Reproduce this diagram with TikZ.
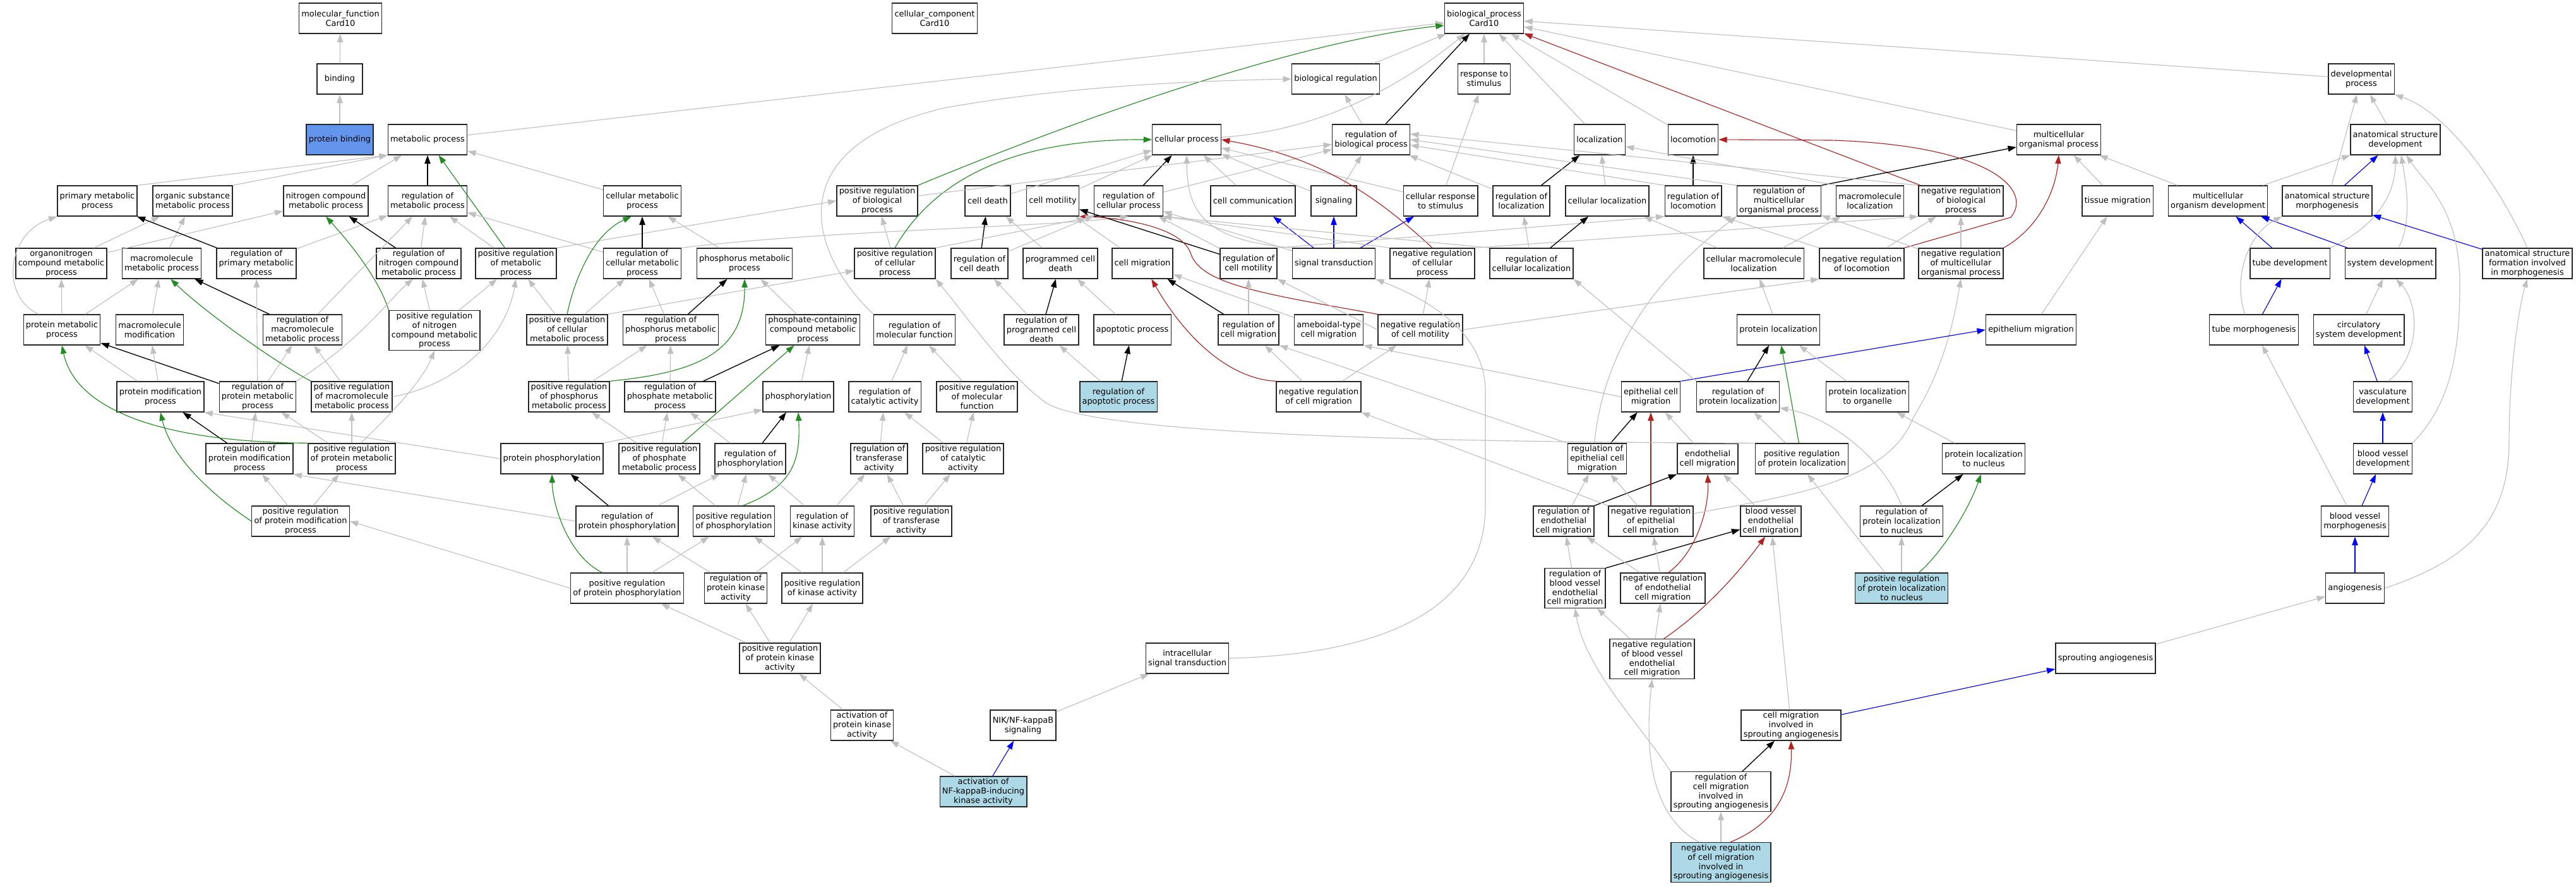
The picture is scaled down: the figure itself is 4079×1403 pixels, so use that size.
\documentclass[tikz,border=0pt]{standalone}
\usepackage{fontspec}
\setmainfont{DejaVu Sans}
\usetikzlibrary{arrows.meta}
\definecolor{edgegray}{RGB}{192,192,192}
\definecolor{posgreen}{RGB}{34,139,34}
\definecolor{negred}{RGB}{178,34,34}
\definecolor{partblue}{RGB}{0,0,255}
\definecolor{seedblue}{RGB}{100,149,237}
\definecolor{hitblue}{RGB}{173,216,230}
\begin{document}
\begin{tikzpicture}[x=0.75pt,y=0.75pt]
    \tikzstyle{term}=[draw=black!85, line width=1pt, fill=white, minimum width=54pt, minimum height=36pt, inner xsep=2.8pt, inner ysep=2pt, align=center, font=\fontsize{9.7}{11.2}\selectfont]
    \tikzstyle{seed}=[term, fill=seedblue]
    \tikzstyle{hit}=[term, fill=hitblue]
    \tikzstyle{goedge}=[line width=0.85pt, -{Triangle[length=10pt,width=7pt]}]
    \tikzstyle{isaedge}=[goedge, draw=edgegray]
    \tikzstyle{regedge}=[goedge, draw=black, line width=1pt]
    \tikzstyle{posedge}=[goedge, draw=posgreen]
    \tikzstyle{negedge}=[goedge, draw=negred]
    \tikzstyle{partedge}=[goedge, draw=partblue]
    \fill [white] (0,0) rectangle (4079,-1403);
    \useasboundingbox (0,0) rectangle (4079,-1403);
    \node [term] (mf) at (539,-29) {molecular\_function\\Card10};
    \node [term] (cc) at (1480,-29) {cellular\_component\\Card10};
    \node [term] (bp) at (2350,-29) {biological\_process\\Card10};
    \node [term] (bind) at (538,-125) {binding};
    \node [term] (breg) at (2115,-125) {biological regulation};
    \node [term] (resp) at (2350,-125) {response to\\stimulus};
    \node [term] (devp) at (3739,-125) {developmental\\process};
    \node [seed] (pbind) at (538,-221) {protein binding};
    \node [term] (metab) at (677,-221) {metabolic process};
    \node [term] (cellp) at (1879,-221) {cellular process};
    \node [term] (regbp) at (2171,-221) {regulation of\\biological process};
    \node [term] (loc) at (2533,-221) {localization};
    \node [term] (locom) at (2681,-221) {locomotion};
    \node [term] (mcop) at (3260,-221) {multicellular\\organismal process};
    \node [term] (asdev) at (3793,-221) {anatomical structure\\development};
    \node [term] (primm) at (154,-318) {primary metabolic\\process};
    \node [term] (orgsub) at (305,-318) {organic substance\\metabolic process};
    \node [term] (nitro) at (516,-318) {nitrogen compound\\metabolic process};
    \node [term] (regmetab) at (677,-318) {regulation of\\metabolic process};
    \node [term] (cellmetab) at (1017,-318) {cellular metabolic\\process};
    \node [term] (posregbp) at (1389,-318) {positive regulation\\of biological\\process};
    \node [term] (death) at (1564,-318) {cell death};
    \node [term] (motil) at (1667,-318) {cell motility};
    \node [term] (regcellp) at (1787,-318) {regulation of\\cellular process};
    \node [term] (comm) at (1984,-318) {cell communication};
    \node [term] (signaling) at (2112,-318) {signaling};
    \node [term] (cresp) at (2281,-318) {cellular response\\to stimulus};
    \node [term] (regloc) at (2409,-318) {regulation of\\localization};
    \node [term] (cellloc) at (2545,-318) {cellular localization};
    \node [term] (reglocom) at (2681,-318) {regulation of\\locomotion};
    \node [term] (regmco) at (2817,-318) {regulation of\\multicellular\\organismal process};
    \node [term] (mmloc) at (2961,-318) {macromolecule\\localization};
    \node [term] (negregbp) at (3105,-318) {negative regulation\\of biological\\process};
    \node [term] (tissmig) at (3353,-318) {tissue migration};
    \node [term] (mcodev) at (3512,-318) {multicellular\\organism development};
    \node [term] (asmorph) at (3685,-318) {anatomical structure\\morphogenesis};
    \node [term] (orgnit) at (97,-417) {organonitrogen\\compound metabolic\\process};
    \node [term] (mmmetab) at (256,-417) {macromolecule\\metabolic process};
    \node [term] (regprim) at (406,-417) {regulation of\\primary metabolic\\process};
    \node [term] (regnitro) at (663,-417) {regulation of\\nitrogen compound\\metabolic process};
    \node [term] (posregmetab) at (817,-417) {positive regulation\\of metabolic\\process};
    \node [term] (regcellmetab) at (1017,-417) {regulation of\\cellular metabolic\\process};
    \node [term] (phosmetab) at (1179,-417) {phosphorus metabolic\\process};
    \node [term] (posregcellp) at (1417,-417) {positive regulation\\of cellular\\process};
    \node [term] (regdeath) at (1551,-417) {regulation of\\cell death};
    \node [term] (pcd) at (1679,-417) {programmed cell\\death};
    \node [term] (migr) at (1809,-417) {cell migration};
    \node [term] (regmotil) at (1977,-417) {regulation of\\cell motility};
    \node [term] (sigtrans) at (2112,-417) {signal transduction};
    \node [term] (negregcellp) at (2268,-417) {negative regulation\\of cellular\\process};
    \node [term] (regcellloc) at (2425,-417) {regulation of\\cellular localization};
    \node [term] (cmmloc) at (2777,-417) {cellular macromolecule\\localization};
    \node [term] (negreglocom) at (2948,-417) {negative regulation\\of locomotion};
    \node [term] (negregmco) at (3105,-417) {negative regulation\\of multicellular\\organismal process};
    \node [term] (tubedev) at (3626,-417) {tube development};
    \node [term] (sysdev) at (3785,-417) {system development};
    \node [term] (asform) at (4002,-417) {anatomical structure\\formation involved\\in morphogenesis};
    \node [term] (protmetab) at (98,-522) {protein metabolic\\process};
    \node [term] (mmmod) at (237,-522) {macromolecule\\modification};
    \node [term] (regmm) at (479,-522) {regulation of\\macromolecule\\metabolic process};
    \node [term] (posregnitro) at (688,-523) {positive regulation\\of nitrogen\\compound metabolic\\process};
    \node [term] (posregcellmetab) at (898,-522) {positive regulation\\of cellular\\metabolic process};
    \node [term] (regphos) at (1062,-522) {regulation of\\phosphorus metabolic\\process};
    \node [term] (phoscont) at (1287,-522) {phosphate-containing\\compound metabolic\\process};
    \node [term] (regmf) at (1448,-522) {regulation of\\molecular function};
    \node [term] (regpcd) at (1649,-522) {regulation of\\programmed cell\\death};
    \node [term] (apop) at (1793,-522) {apoptotic process};
    \node [term] (regmigr) at (1977,-522) {regulation of\\cell migration};
    \node [term] (ameb) at (2104,-522) {ameboidal-type\\cell migration};
    \node [term] (negregmotil) at (2249,-522) {negative regulation\\of cell motility};
    \node [term] (protloc) at (2816,-522) {protein localization};
    \node [term] (epimig) at (3216,-522) {epithelium migration};
    \node [term] (tubemorph) at (3569,-522) {tube morphogenesis};
    \node [term] (circ) at (3735,-522) {circulatory\\system development};
    \node [term] (protmod) at (254,-628) {protein modification\\process};
    \node [term] (regprot) at (408,-628) {regulation of\\protein metabolic\\process};
    \node [term] (posregmm) at (557,-628) {positive regulation\\of macromolecule\\metabolic process};
    \node [term] (posregphos) at (901,-628) {positive regulation\\of phosphorus\\metabolic process};
    \node [term] (regphosph) at (1061,-628) {regulation of\\phosphate metabolic\\process};
    \node [term] (phosphory) at (1264,-628) {phosphorylation};
    \node [term] (regcat) at (1401,-628) {regulation of\\catalytic activity};
    \node [term] (posregmf) at (1547,-628) {positive regulation\\of molecular\\function};
    \node [hit] (regapop) at (1771,-628) {regulation of\\apoptotic process};
    \node [term] (negregmigr) at (2088,-628) {negative regulation\\of cell migration};
    \node [term] (epicm) at (2614,-628) {epithelial cell\\migration};
    \node [term] (regprotloc) at (2752,-628) {regulation of\\protein localization};
    \node [term] (protlocorg) at (2957,-628) {protein localization\\to organelle};
    \node [term] (vasc) at (3773,-628) {vasculature\\development};
    \node [term] (regprotmod) at (395,-726) {regulation of\\protein modification\\process};
    \node [term] (posregprot) at (557,-726) {positive regulation\\of protein metabolic\\process};
    \node [term] (protphos) at (874,-726) {protein phosphorylation};
    \node [term] (posregphosph) at (1044,-726) {positive regulation\\of phosphate\\metabolic process};
    \node [term] (regphosry) at (1188,-726) {regulation of\\phosphorylation};
    \node [term] (regtrans) at (1392,-726) {regulation of\\transferase\\activity};
    \node [term] (posregcat) at (1525,-726) {positive regulation\\of catalytic\\activity};
    \node [term] (regepi) at (2529,-726) {regulation of\\epithelial cell\\migration};
    \node [term] (endo) at (2704,-726) {endothelial\\cell migration};
    \node [term] (posregprotloc) at (2853,-726) {positive regulation\\of protein localization};
    \node [term] (protlocnuc) at (3141,-726) {protein localization\\to nucleus};
    \node [term] (bvdev) at (3773,-726) {blood vessel\\development};
    \node [term] (posregprotmod) at (476,-825) {positive regulation\\of protein modification\\process};
    \node [term] (regprotphos) at (993,-825) {regulation of\\protein phosphorylation};
    \node [term] (posregphosry) at (1162,-825) {positive regulation\\of phosphorylation};
    \node [term] (regkin) at (1302,-825) {regulation of\\kinase activity};
    \node [term] (posregtrans) at (1443,-825) {positive regulation\\of transferase\\activity};
    \node [term] (regendo) at (2476,-825) {regulation of\\endothelial\\cell migration};
    \node [term] (negregepi) at (2614,-825) {negative regulation\\of epithelial\\cell migration};
    \node [term] (bvecm) at (2804,-825) {blood vessel\\endothelial\\cell migration};
    \node [term] (regprotlocnuc) at (3011,-825) {regulation of\\protein localization\\to nucleus};
    \node [term] (bvmorph) at (3729,-825) {blood vessel\\morphogenesis};
    \node [term] (posregprotphos) at (993,-931) {positive regulation\\of protein phosphorylation};
    \node [term] (regprotkin) at (1165,-931) {regulation of\\protein kinase\\activity};
    \node [term] (posregkin) at (1302,-931) {positive regulation\\of kinase activity};
    \node [term] (regbvecm) at (2494,-931) {regulation of\\blood vessel\\endothelial\\cell migration};
    \node [term] (negregendo) at (2633,-931) {negative regulation\\of endothelial\\cell migration};
    \node [hit] (posregprotlocnuc) at (3011,-931) {positive regulation\\of protein localization\\to nucleus};
    \node [term] (angio) at (3729,-931) {angiogenesis};
    \node [term] (posregprotkin) at (1235,-1042) {positive regulation\\of protein kinase\\activity};
    \node [term] (intra) at (1880,-1042) {intracellular\\signal transduction};
    \node [term] (negregbvecm) at (2616,-1043) {negative regulation\\of blood vessel\\endothelial\\cell migration};
    \node [term] (sprout) at (3334,-1042) {sprouting angiogenesis};
    \node [term] (actpk) at (1365,-1148) {activation of\\protein kinase\\activity};
    \node [term] (nik) at (1620,-1148) {NIK/NF-kappaB\\signaling};
    \node [term] (cmsa) at (2836,-1148) {cell migration\\involved in\\sprouting angiogenesis};
    \node [hit] (actnik) at (1557,-1253) {activation of\\NF-kappaB-inducing\\kinase activity};
    \node [term] (regcmsa) at (2725,-1253) {regulation of\\cell migration\\involved in\\sprouting angiogenesis};
    \node [hit] (negregcmsa) at (2725,-1365) {negative regulation\\of cell migration\\involved in\\sprouting angiogenesis};
    \draw [isaedge] (bind) -- (mf);
    \draw [isaedge] (pbind) -- (bind);
    \draw [isaedge] (metab) -- (bp);
    \draw [isaedge] (cellp) .. controls (2120,-205) and (2250,-110) .. (bp);
    \draw [isaedge] (breg) -- (bp);
    \draw [regedge] (regbp) -- (bp);
    \draw [isaedge] (regbp) -- (breg);
    \draw [isaedge] (resp) -- (bp);
    \draw [isaedge] (loc) -- (bp);
    \draw [isaedge] (locom) -- (bp);
    \draw [negedge] (negregbp) -- (bp);
    \draw [isaedge] (mcop) -- (bp);
    \draw [isaedge] (devp) -- (bp);
    \draw [posedge] (posregbp.north east) .. controls (1800,-150) and (2100,-60) .. (bp.190);
    \draw [isaedge] (primm.north east) -- (metab.south west);
    \draw [isaedge] (orgsub.north east) -- (metab.south west);
    \draw [isaedge] (nitro) -- (metab);
    \draw [regedge] (regmetab) -- (metab);
    \draw [isaedge] (cellmetab) -- (metab);
    \draw [posedge] (posregmetab) -- (metab);
    \draw [isaedge] (orgnit) -- (orgsub);
    \draw [isaedge] (orgnit) -- (nitro);
    \draw [isaedge] (mmmetab) -- (orgsub);
    \draw [regedge] (regprim) -- (primm);
    \draw [isaedge] (regprim) -- (regmetab);
    \draw [regedge] (regnitro) -- (nitro);
    \draw [isaedge] (regnitro) -- (regmetab);
    \draw [isaedge] (protmetab.146) .. controls (0,-470) and (10,-370) .. (primm.south west);
    \draw [isaedge] (protmetab) -- (orgnit);
    \draw [isaedge] (protmetab) -- (mmmetab);
    \draw [isaedge] (mmmod) -- (mmmetab);
    \draw [regedge] (regmm) -- (mmmetab);
    \draw [isaedge] (regmm) -- (regmetab);
    \draw [posedge] (posregnitro.north west) .. controls (600,-440) and (550,-380) .. (nitro.south);
    \draw [isaedge] (posregnitro) -- (regnitro);
    \draw [isaedge] (posregnitro) -- (posregmetab);
    \draw [isaedge] (posregmetab) -- (regmetab);
    \draw [isaedge] (posregmetab.north east) -- (posregbp.west);
    \draw [regedge] (regcellmetab) -- (cellmetab);
    \draw [isaedge] (regcellmetab) -- (regmetab);
    \draw [isaedge] (regcellmetab.north east) .. controls (1300,-365) and (1650,-360) .. (regcellp.south);
    \draw [isaedge] (phosmetab) -- (cellmetab);
    \draw [posedge] (posregcellmetab.north) .. controls (910,-440) and (940,-370) .. (cellmetab.235);
    \draw [isaedge] (posregcellmetab) -- (regcellmetab);
    \draw [isaedge] (posregcellmetab) -- (posregmetab);
    \draw [isaedge] (posregcellmetab.north east) -- (posregcellp.190);
    \draw [regedge] (regphos) -- (phosmetab);
    \draw [isaedge] (regphos) -- (regcellmetab);
    \draw [isaedge] (phoscont) -- (phosmetab);
    \draw [posedge] (posregphos.north east) .. controls (1100,-590) and (1180,-560) .. (phosmetab.south);
    \draw [isaedge] (posregphos) -- (posregcellmetab);
    \draw [isaedge] (posregphos) -- (regphos);
    \draw [regedge] (regphosph) -- (phoscont);
    \draw [isaedge] (regphosph) -- (regphos);
    \draw [isaedge] (phosphory) -- (phoscont);
    \draw [isaedge] (protphos.north east) -- (phosphory.200);
    \draw [isaedge] (protphos.west) -- (protmod.south east);
    \draw [regedge] (regprot) -- (protmetab);
    \draw [isaedge] (regprot) -- (regmm);
    \draw [isaedge] (regprot) -- (regprim);
    \draw [isaedge] (regprot.north east) .. controls (570,-540) and (620,-470) .. (regnitro.250);
    \draw [isaedge] (protmod) -- (protmetab);
    \draw [isaedge] (protmod) -- (mmmod);
    \draw [posedge] (posregmm.north west) .. controls (430,-570) and (320,-490) .. (mmmetab.300);
    \draw [isaedge] (posregmm) -- (regmm);
    \draw [isaedge] (posregmm.east) .. controls (720,-610) and (800,-540) .. (posregmetab.south);
    \draw [regedge] (regprotmod) -- (protmod);
    \draw [isaedge] (regprotmod) -- (regprot);
    \draw [posedge] (posregprot.north west) .. controls (260,-700) and (120,-650) .. (protmetab.south);
    \draw [isaedge] (posregprot) -- (regprot);
    \draw [isaedge] (posregprot) -- (posregmm);
    \draw [isaedge] (posregprot.60) .. controls (625,-650) and (670,-600) .. (posregnitro.south);
    \draw [posedge] (posregprotmod.west) .. controls (330,-780) and (270,-720) .. (protmod.south);
    \draw [isaedge] (posregprotmod) -- (regprotmod);
    \draw [isaedge] (posregprotmod) -- (posregprot);
    \draw [regedge] (regprotphos) -- (protphos);
    \draw [isaedge] (regprotphos) -- (regphosry);
    \draw [isaedge] (regprotphos.west) -- (regprotmod.south east);
    \draw [posedge] (posregphosph.34) -- (phoscont.220);
    \draw [isaedge] (posregphosph) -- (regphosph);
    \draw [isaedge] (posregphosph) -- (posregphos);
    \draw [regedge] (regphosry) -- (phosphory);
    \draw [isaedge] (regphosry) -- (regphosph);
    \draw [posedge] (posregphosry.60) .. controls (1255,-770) and (1268,-730) .. (phosphory.south);
    \draw [isaedge] (posregphosry) -- (regphosry);
    \draw [isaedge] (posregphosry) -- (posregphosph);
    \draw [isaedge] (regkin) -- (regphosry);
    \draw [isaedge] (regkin) -- (regtrans);
    \draw [posedge] (posregprotphos.148) .. controls (900,-880) and (875,-800) .. (protphos.south);
    \draw [isaedge] (posregprotphos) -- (regprotphos);
    \draw [isaedge] (posregprotphos) -- (posregphosry);
    \draw [isaedge] (posregprotphos.west) -- (posregprotmod.east);
    \draw [isaedge] (regprotkin) -- (regprotphos);
    \draw [isaedge] (regprotkin) -- (regkin);
    \draw [isaedge] (posregkin) -- (posregphosry);
    \draw [isaedge] (posregkin) -- (regkin);
    \draw [isaedge] (posregkin) -- (posregtrans);
    \draw [isaedge] (posregprotkin) -- (posregprotphos);
    \draw [isaedge] (posregprotkin) -- (regprotkin);
    \draw [isaedge] (posregprotkin) -- (posregkin);
    \draw [isaedge] (actpk) -- (posregprotkin);
    \draw [isaedge] (actnik) -- (actpk);
    \draw [partedge] (actnik) -- (nik);
    \draw [isaedge] (nik) -- (intra);
    \draw [isaedge] (intra.east) .. controls (2200,-1035) and (2352,-960) .. (2352,-800) -- (2352,-620) .. controls (2352,-520) and (2250,-470) .. (sigtrans.south east);
    \draw [isaedge] (regmf.north west) .. controls (1280,-400) and (1230,-230) .. (1500,-170) .. controls (1700,-135) and (1900,-128) .. (breg.west);
    \draw [isaedge] (regcat) -- (regmf);
    \draw [isaedge] (posregmf) -- (regmf);
    \draw [isaedge] (regtrans) -- (regcat);
    \draw [isaedge] (posregcat) -- (regcat);
    \draw [isaedge] (posregcat) -- (posregmf);
    \draw [isaedge] (posregtrans) -- (regtrans);
    \draw [isaedge] (posregtrans) -- (posregcat);
    \draw [isaedge] (death) -- (cellp);
    \draw [isaedge] (motil) -- (cellp);
    \draw [regedge] (regcellp) -- (cellp);
    \draw [isaedge] (comm) -- (cellp);
    \draw [isaedge] (regcellp) -- (regbp);
    \draw [isaedge] (signaling) -- (regbp);
    \draw [isaedge] (signaling) -- (cellp);
    \draw [isaedge] (cresp) -- (resp);
    \draw [isaedge] (cresp) -- (cellp);
    \draw [partedge] (sigtrans) -- (signaling);
    \draw [partedge] (sigtrans) -- (cresp);
    \draw [partedge] (sigtrans) -- (comm);
    \draw [isaedge] (sigtrans) -- (regcellp);
    \draw [isaedge] (sigtrans.north west) .. controls (1900,-380) and (1880,-330) .. (cellp.south);
    \draw [isaedge] (negregcellp.north west) -- (regcellp.south east);
    \draw [isaedge] (negregcellp.north east) -- (negregbp.south west);
    \draw [negedge] (negregcellp.north) .. controls (2190,-320) and (2100,-250) .. (cellp.east);
    \draw [regedge] (regmotil) -- (motil);
    \draw [isaedge] (regmotil) -- (regcellp);
    \draw [isaedge] (regmotil.north east) -- (reglocom.south west);
    \draw [isaedge] (migr) -- (motil);
    \draw [negedge] (negregmotil.north west) .. controls (2000,-465) and (1900,-450) .. (1885,-400) .. controls (1870,-360) and (1780,-345) .. (motil.south east);
    \draw [isaedge] (negregmotil.west) -- (regmotil.south east);
    \draw [isaedge] (negregmotil) -- (negregcellp);
    \draw [isaedge] (negregmotil.east) -- (negreglocom.south west);
    \draw [regedge] (regmigr) -- (migr);
    \draw [isaedge] (regmigr) -- (regmotil);
    \draw [isaedge] (ameb) -- (migr);
    \draw [negedge] (negregmigr.north west) .. controls (1950,-600) and (1880,-540) .. (migr.300);
    \draw [isaedge] (negregmigr) -- (regmigr);
    \draw [isaedge] (negregmigr) -- (negregmotil);
    \draw [regedge] (regdeath) -- (death);
    \draw [isaedge] (regdeath) -- (regcellp);
    \draw [isaedge] (pcd) -- (death);
    \draw [regedge] (regpcd) -- (pcd);
    \draw [isaedge] (regpcd) -- (regdeath);
    \draw [isaedge] (apop) -- (pcd);
    \draw [isaedge] (regapop) -- (regpcd);
    \draw [regedge] (regapop) -- (apop);
    \draw [isaedge] (posregcellp) -- (posregbp);
    \draw [isaedge] (posregcellp.north east) -- (regcellp.south west);
    \draw [posedge] (posregcellp.north) .. controls (1470,-300) and (1580,-220) .. (cellp.west);
    \draw [isaedge] (posregbp) -- (regbp);
    \draw [isaedge] (regloc) -- (regbp);
    \draw [regedge] (regloc) -- (loc);
    \draw [isaedge] (cellloc) -- (loc);
    \draw [regedge] (reglocom) -- (locom);
    \draw [isaedge] (reglocom.north west) -- (regbp.352);
    \draw [regedge] (regmco.north east) -- (mcop.190);
    \draw [isaedge] (regmco.north west) -- (regbp.east);
    \draw [isaedge] (mmloc.north west) -- (loc.345);
    \draw [isaedge] (negregbp.north west) -- (regbp.8);
    \draw [isaedge] (negreglocom.north west) -- (reglocom.south east);
    \draw [negedge] (negreglocom.north east) -- (3184,-344) .. controls (3220,-300) and (3150,-230) .. (2900,-222) -- (locom.east);
    \draw [isaedge] (negreglocom) -- (negregbp);
    \draw [isaedge] (negregmco) -- (negregbp);
    \draw [isaedge] (negregmco) -- (regmco);
    \draw [negedge] (negregmco.north east) .. controls (3230,-360) and (3255,-300) .. (mcop.south);
    \draw [isaedge] (cmmloc) -- (mmloc);
    \draw [isaedge] (cmmloc) -- (cellloc);
    \draw [regedge] (regcellloc) -- (cellloc);
    \draw [isaedge] (regcellloc) -- (regloc);
    \draw [isaedge] (regcellloc.north west) -- (regcellp.south east);
    \draw [isaedge] (protloc) -- (cmmloc);
    \draw [isaedge] (epimig) -- (tissmig);
    \draw [isaedge] (tissmig) -- (mcop);
    \draw [isaedge] (mcodev) -- (mcop);
    \draw [isaedge] (mcodev) -- (asdev);
    \draw [isaedge] (asdev) -- (devp);
    \draw [partedge] (asmorph) -- (asdev);
    \draw [isaedge] (asmorph) -- (devp);
    \draw [partedge] (tubedev) -- (mcodev);
    \draw [isaedge] (tubedev.north east) .. controls (3760,-360) and (3793,-310) .. (asdev.south);
    \draw [partedge] (sysdev) -- (mcodev);
    \draw [isaedge] (sysdev) .. controls (3820,-350) and (3810,-290) .. (asdev.290);
    \draw [partedge] (asform) -- (asmorph);
    \draw [isaedge] (asform.north) .. controls (3960,-300) and (3880,-180) .. (devp.south east);
    \draw [partedge] (tubemorph) -- (tubedev);
    \draw [isaedge] (tubemorph.120) .. controls (3535,-440) and (3560,-370) .. (asmorph.south west);
    \draw [isaedge] (circ) -- (sysdev);
    \draw [partedge] (vasc) -- (circ);
    \draw [isaedge] (vasc.70) .. controls (3835,-560) and (3830,-480) .. (sysdev.290);
    \draw [partedge] (bvdev) -- (vasc);
    \draw [isaedge] (bvdev.north east) .. controls (3880,-640) and (3895,-560) .. (3895,-450) .. controls (3895,-330) and (3840,-290) .. (asdev.305);
    \draw [partedge] (bvmorph) -- (bvdev);
    \draw [isaedge] (bvmorph) -- (tubemorph);
    \draw [partedge] (angio) -- (bvmorph);
    \draw [isaedge] (angio.east) .. controls (3900,-890) and (3973,-830) .. (3973,-700) .. controls (3973,-580) and (3990,-480) .. (asform.south);
    \draw [isaedge] (sprout) -- (angio);
    \draw [partedge] (cmsa) -- (sprout);
    \draw [isaedge] (cmsa) -- (bvecm);
    \draw [regedge] (regcmsa) -- (cmsa);
    \draw [isaedge] (regcmsa.north west) .. controls (2600,-1150) and (2510,-1060) .. (regbvecm.south);
    \draw [isaedge] (negregcmsa) -- (regcmsa);
    \draw [negedge] (negregcmsa.65) .. controls (2820,-1300) and (2838,-1240) .. (cmsa.south);
    \draw [isaedge] (negregcmsa.137) .. controls (2610,-1290) and (2605,-1180) .. (negregbvecm.south);
    \draw [isaedge] (negregbvecm) -- (regbvecm);
    \draw [isaedge] (negregbvecm) -- (negregendo);
    \draw [negedge] (negregbvecm.60) .. controls (2710,-960) and (2765,-890) .. (bvecm.250);
    \draw [regedge] (regbvecm.north east) -- (bvecm.195);
    \draw [isaedge] (regbvecm) -- (regendo);
    \draw [isaedge] (negregendo) -- (regendo);
    \draw [isaedge] (negregendo) -- (negregepi);
    \draw [negedge] (negregendo.70) .. controls (2690,-870) and (2706,-800) .. (endo.south);
    \draw [regedge] (regendo.north east) -- (endo.south west);
    \draw [isaedge] (regendo) -- (regepi);
    \draw [isaedge] (negregepi) -- (regepi);
    \draw [negedge] (negregepi) -- (epicm);
    \draw [isaedge] (negregepi.north west) -- (negregmigr.south east);
    \draw [isaedge] (negregepi.10) .. controls (2830,-785) and (2990,-765) .. (3030,-660) .. controls (3080,-580) and (3095,-500) .. (negregmco.south);
    \draw [partedge] (epicm.north east) -- (epimig.west);
    \draw [isaedge] (epicm.west) -- (ameb.south east);
    \draw [regedge] (regepi) -- (epicm);
    \draw [isaedge] (regepi.north west) -- (regmigr.south east);
    \draw [isaedge] (regepi.100) .. controls (2535,-600) and (2580,-470) .. (regmco.south west);
    \draw [isaedge] (endo) -- (epicm);
    \draw [posedge] (posregprotloc) -- (protloc);
    \draw [isaedge] (posregprotloc) -- (regprotloc);
    \draw [isaedge] (posregprotloc.north west) .. controls (2300,-700) and (1760,-690) .. (1660,-640) .. controls (1600,-600) and (1530,-500) .. (posregcellp.south east);
    \draw [regedge] (regprotloc) -- (protloc);
    \draw [isaedge] (regprotloc.north west) -- (regcellloc.south east);
    \draw [isaedge] (protlocorg) -- (protloc);
    \draw [isaedge] (protlocnuc) -- (protlocorg);
    \draw [regedge] (regprotlocnuc) -- (protlocnuc);
    \draw [isaedge] (regprotlocnuc.north) .. controls (2985,-730) and (2900,-660) .. (regprotloc.345);
    \draw [isaedge] (posregprotlocnuc.137) -- (posregprotloc.290);
    \draw [isaedge] (posregprotlocnuc) -- (regprotlocnuc);
    \draw [posedge] (posregprotlocnuc.42) .. controls (3080,-870) and (3120,-800) .. (protlocnuc.260);
    \draw [isaedge] (bvecm) -- (endo);
\end{tikzpicture}
\end{document}
